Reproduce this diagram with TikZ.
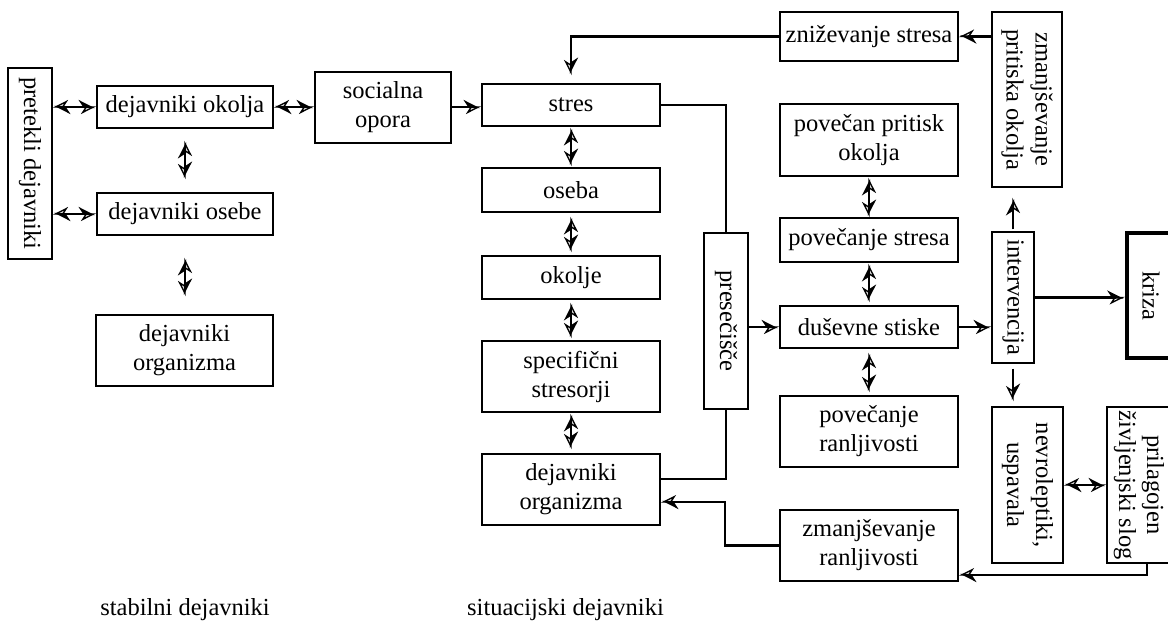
\documentclass[tikz,border=0pt]{standalone}
\usepackage{fontspec}
\setmainfont{Liberation Serif}
\usetikzlibrary{arrows.meta}
\begin{document}
\tikzset{
  myhead/.tip={Stealth[harpoon,length=14pt 0,width=14pt 0,inset=4.5pt 0,sep=-14pt 0]Stealth[harpoon,swap,open,line width=1.4pt,length=14pt 0,width=14pt 0,inset=4.5pt 0]},
  box/.style={draw, line width=1.3pt, inner sep=0pt, align=center, font=\fontsize{24.5}{29}\selectfont},
  rbox/.style={box, rotate=-90},
  lbl/.style={inner sep=0pt, font=\fontsize{24.5}{29}\selectfont},
  con/.style={line width=2.3pt},
  arr/.style={con,-myhead},
  dbl/.style={con,myhead-myhead},
}
\begin{tikzpicture}[x=1pt,y=-1pt]
\clip (0,0) rectangle (1168,624);
% left column
\node[rbox, minimum width=191pt, minimum height=44pt] (pret) at (30,163.5) {pretekli dejavniki};
\node[box, minimum width=176pt, minimum height=42pt] (okolja) at (185,107) {dejavniki okolja};
\node[box, minimum width=176pt, minimum height=42pt] (osebe) at (185,214) {dejavniki osebe};
\node[box, minimum width=177pt, minimum height=71pt] (orgL) at (184.5,350.5) {dejavniki\\organizma};
\node[box, minimum width=136pt, minimum height=71pt] (soc) at (383,107.5) {socialna\\opora};
% middle column
\node[box, minimum width=178pt, minimum height=42pt] (stres) at (571,105) {stres};
\node[box, minimum width=178pt, minimum height=44pt] (oseba) at (571,190) {oseba};
\node[box, minimum width=178pt, minimum height=43pt] (okolje) at (571,277.5) {okolje};
\node[box, minimum width=178pt, minimum height=71pt] (spec) at (571,376.5) {specifični\\stresorji};
\node[box, minimum width=178pt, minimum height=71pt] (orgM) at (571,489.5) {dejavniki\\organizma};
\node[rbox, minimum width=176pt, minimum height=44pt] (pres) at (726,321) {presečišče};
% right part
\node[box, minimum width=178pt, minimum height=49pt] (znizh) at (869,36.5) {zniževanje stresa};
\node[rbox, minimum width=175pt, minimum height=70pt] (zmpr) at (1027,99.5) {zmanjševanje\\pritiska okolja};
\node[box, minimum width=178pt, minimum height=72pt] (povp) at (869,140) {povečan pritisk\\okolja};
\node[box, minimum width=178pt, minimum height=44pt] (povs) at (869,240) {povečanje stresa};
\node[box, minimum width=178pt, minimum height=42pt] (dus) at (869,327) {duševne stiske};
\node[box, minimum width=178pt, minimum height=71pt] (povr) at (869,431.5) {povečanje\\ranljivosti};
\node[box, minimum width=178pt, minimum height=71pt] (zmr) at (869,545.5) {zmanjševanje\\ranljivosti};
\node[rbox, minimum width=131pt, minimum height=42pt] (interv) at (1013,297.5) {intervencija};
\node[rbox, line width=4pt, minimum width=125pt, minimum height=48pt] (kriza) at (1151,295.5) {kriza};
\node[rbox, minimum width=156pt, minimum height=71pt] (nevr) at (1027.5,485) {nevroleptiki,\\uspavala};
\node[rbox, minimum width=156pt, minimum height=64pt, font=\fontsize{24.5}{28}\selectfont] (prilag) at (1139,485) {prilagojen\\življenjski slog};
% bottom labels
\node[lbl] (stab) at (185,610) {stabilni dejavniki};
\node[lbl] (situ) at (565.5,610) {situacijski dejavniki};
% bend points
\coordinate (b1) at (727,479);
\coordinate (b2) at (1147,575);
\coordinate (b3) at (725,502);
% connectors left
\draw[dbl] (okolja.west) -- (okolja.west -| pret.north);
\draw[dbl] (osebe.west) -- (osebe.west -| pret.north);
\draw[dbl, shorten <=12pt, shorten >=13pt] (okolja.south) -- (osebe.north);
\draw[dbl, shorten <=22pt, shorten >=18pt] (osebe.south) -- (osebe.south |- orgL.north);
\draw[dbl] (okolja.east) -- (okolja.east -| soc.west);
\draw[arr] (soc.east |- okolja.east) -- (okolja.east -| stres.west);
% middle column
\draw[dbl, shorten <=1pt, shorten >=1pt] (stres.south) -- (oseba.north);
\draw[dbl, shorten <=4pt, shorten >=3pt] (oseba.south) -- (okolje.north);
\draw[dbl, shorten <=3pt, shorten >=2pt] (okolje.south) -- (spec.north);
\draw[dbl, shorten <=1pt, shorten >=4pt] (spec.south) -- (orgM.north);
\draw[con] (stres.east) -| (pres.west);
\draw[con] (pres.east) -- (pres.east |- b1) -- (b1 -| orgM.east);
\draw[arr] (zmr.west) -| (b3) -- (b3 -| orgM.east);
\draw[arr, shorten >=8pt] (znizh.west) -| (stres.north);
% right
\draw[arr] (dus.west -| pres.north) -- (dus.west);
\draw[arr] (dus.east) -- (dus.east -| interv.south);
\draw[arr] (interv.north) -- (interv.north -| kriza.south);
\draw[arr, shorten <=2pt, shorten >=10pt] (interv.west) -- (interv.west |- zmpr.east);
\draw[arr] (znizh.east -| zmpr.south) -- (znizh.east);
\draw[arr, shorten <=5pt, shorten >=5pt] (interv.east) -- (interv.east |- nevr.west);
\draw[dbl, shorten <=1pt] (povp.south) -- (povs.north);
\draw[dbl, shorten <=1pt, shorten >=3pt] (povs.south) -- (dus.north);
\draw[dbl, shorten <=4pt, shorten >=3pt] (dus.south) -- (povr.north);
\draw[dbl] (nevr.north) -- (nevr.north -| prilag.south);
\draw[arr] (b2 |- prilag.east) -- (b2) -- (b2 -| zmr.east);
\end{tikzpicture}
\end{document}
